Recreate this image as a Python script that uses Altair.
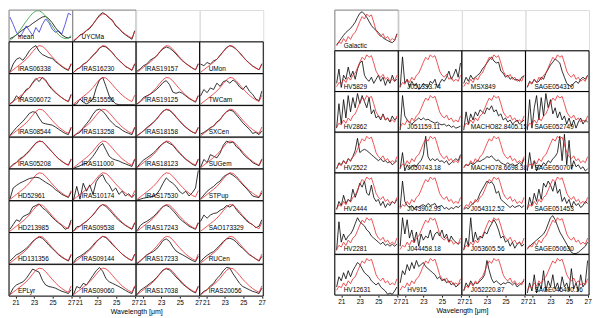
import altair as alt
import pandas as pd

# ---------------- wavelength grids ----------------
WL_L = [20.4, 20.75, 21.1, 21.45, 21.8, 22.15, 22.5, 22.85, 23.2, 23.55,
        23.9, 24.25, 24.6, 24.95, 25.3, 25.65, 26.0, 26.35, 26.7, 27.0]
WL_R = [20.5, 20.75, 21.0, 21.25, 21.5, 21.75, 22.0, 22.25, 22.5, 22.75,
        23.0, 23.25, 23.5, 23.75, 24.0, 24.25, 24.5, 24.75, 25.0, 25.25,
        25.5, 25.75, 26.0, 26.25, 26.5, 26.75, 27.0]
X_TICKS = [21, 23, 25, 27]

# ---------------- templates (red) ----------------
LEFT_RED = [0.04, 0.12, 0.2, 0.28, 0.36, 0.45, 0.56, 0.69, 0.81, 0.88,
            0.86, 0.77, 0.65, 0.53, 0.42, 0.32, 0.24, 0.17, 0.12, 0.32]
RIGHT_RED = [0.12, 0.22, 0.18, 0.3, 0.22, 0.35, 0.28, 0.4, 0.45, 0.58, 0.72, 0.84, 0.78, 0.9,
             0.84, 0.88, 0.7, 0.5, 0.4, 0.35, 0.42, 0.3, 0.35, 0.25, 0.3, 0.25, 0.4]

# mean panel extra curves
MEAN_GREEN = [0.05, 0.12, 0.22, 0.35, 0.5, 0.65, 0.78, 0.9, 0.97, 0.98,
              0.92, 0.8, 0.65, 0.5, 0.35, 0.22, 0.14, 0.1, 0.12, 0.2]
MEAN_BLUE = [0.78, 0.55, 0.3, 0.15, 0.3, 0.5, 0.35, 0.2, 0.45, 0.3,
             0.55, 0.72, 0.6, 0.4, 0.3, 0.35, 0.25, 0.55, 0.9, 0.85]

# ---------------- left grid: (name, row, col) ----------------
LEFT_LAYOUT = [
    ("mean", 0, 0), ("UYCMa", 0, 1),
    ("IRAS06338", 1, 0), ("IRAS16230", 1, 1), ("IRAS19157", 1, 2), ("UMon", 1, 3),
    ("IRAS06072", 2, 0), ("IRAS15556", 2, 1), ("IRAS19125", 2, 2), ("TWCam", 2, 3),
    ("IRAS08544", 3, 0), ("IRAS13258", 3, 1), ("IRAS18158", 3, 2), ("SXCen", 3, 3),
    ("IRAS05208", 4, 0), ("IRAS11000", 4, 1), ("IRAS18123", 4, 2), ("SUGem", 4, 3),
    ("HD52961", 5, 0), ("IRAS10174", 5, 1), ("IRAS17530", 5, 2), ("STPup", 5, 3),
    ("HD213985", 6, 0), ("IRAS09538", 6, 1), ("IRAS17243", 6, 2), ("SAO173329", 6, 3),
    ("HD131356", 7, 0), ("IRAS09144", 7, 1), ("IRAS17233", 7, 2), ("RUCen", 7, 3),
    ("EPLyr", 8, 0), ("IRAS09060", 8, 1), ("IRAS17038", 8, 2), ("IRAS20056", 8, 3),
]
LEFT_BLACK = {
    "mean": [0.1, 0.15, 0.22, 0.3, 0.38, 0.45, 0.5, 0.58, 0.65, 0.72, 0.78, 0.8, 0.72, 0.6, 0.45, 0.32, 0.22, 0.15, 0.12, 0.15],
    "UYCMa": [0.02, 0.1, 0.22, 0.25, 0.35, 0.42, 0.55, 0.7, 0.84, 0.92, 0.85, 0.75, 0.68, 0.5, 0.42, 0.3, 0.22, 0.15, 0.08, 0.35],
    "IRAS06338": [0.04, 0.3, 0.45, 0.5, 0.42, 0.55, 0.72, 0.82, 0.88, 0.7, 0.6, 0.55, 0.5, 0.48, 0.38, 0.3, 0.22, 0.15, 0.1, 0.3],
    "IRAS16230": [0.03, 0.14, 0.18, 0.3, 0.35, 0.46, 0.58, 0.66, 0.8, 0.86, 0.84, 0.75, 0.66, 0.52, 0.42, 0.33, 0.22, 0.17, 0.1, 0.3],
    "IRAS19157": [0.08, 0.15, 0.25, 0.3, 0.42, 0.48, 0.55, 0.68, 0.78, 0.84, 0.8, 0.72, 0.62, 0.5, 0.4, 0.32, 0.25, 0.18, 0.12, 0.3],
    "UMon": [0.3, 0.25, 0.35, 0.3, 0.4, 0.45, 0.58, 0.7, 0.82, 0.88, 0.84, 0.76, 0.66, 0.54, 0.42, 0.33, 0.24, 0.18, 0.12, 0.3],
    "IRAS06072": [0.05, 0.12, 0.3, 0.2, 0.35, 0.5, 0.55, 0.72, 0.85, 0.75, 0.88, 0.8, 0.62, 0.5, 0.4, 0.32, 0.24, 0.17, 0.12, 0.35],
    "IRAS15556": [0.02, 0.05, 0.2, 0.1, 0.05, 0.1, 0.2, 0.55, 0.8, 0.88, 0.6, 0.3, 0.15, 0.05, 0.02, 0.02, 0.02, 0.02, 0.02, 0.02],
    "IRAS19125": [0.05, 0.12, 0.25, 0.3, 0.35, 0.42, 0.5, 0.6, 0.72, 0.78, 0.65, 0.42, 0.38, 0.42, 0.38, 0.3, 0.22, 0.16, 0.1, 0.3],
    "TWCam": [0.3, 0.5, 0.4, 0.55, 0.5, 0.7, 0.6, 0.75, 0.78, 0.7, 0.8, 0.72, 0.58, 0.5, 0.62, 0.45, 0.35, 0.2, 0.15, 0.45],
    "IRAS08544": [0.05, 0.18, 0.3, 0.4, 0.5, 0.62, 0.75, 0.8, 0.78, 0.6, 0.45, 0.42, 0.4, 0.38, 0.32, 0.25, 0.18, 0.12, 0.08, 0.3],
    "IRAS13258": [0.03, 0.1, 0.15, 0.3, 0.42, 0.55, 0.72, 0.85, 0.88, 0.82, 0.7, 0.55, 0.45, 0.35, 0.3, 0.22, 0.16, 0.12, 0.08, 0.3],
    "IRAS18158": [0.05, 0.12, 0.2, 0.3, 0.38, 0.47, 0.57, 0.7, 0.82, 0.87, 0.84, 0.75, 0.63, 0.52, 0.4, 0.31, 0.23, 0.16, 0.12, 0.3],
    "SXCen": [0.1, 0.15, 0.22, 0.3, 0.35, 0.48, 0.55, 0.7, 0.8, 0.85, 0.82, 0.7, 0.58, 0.45, 0.35, 0.25, 0.12, 0.15, 0.08, 0.2],
    "IRAS05208": [0.04, 0.15, 0.2, 0.32, 0.38, 0.48, 0.58, 0.7, 0.82, 0.87, 0.86, 0.76, 0.64, 0.54, 0.42, 0.32, 0.24, 0.17, 0.12, 0.3],
    "IRAS11000": [0.02, 0.06, 0.1, 0.15, 0.18, 0.28, 0.4, 0.55, 0.72, 0.8, 0.6, 0.4, 0.32, 0.28, 0.25, 0.2, 0.16, 0.12, 0.08, 0.3],
    "IRAS18123": [0.05, 0.18, 0.28, 0.35, 0.42, 0.5, 0.6, 0.72, 0.8, 0.86, 0.8, 0.75, 0.62, 0.5, 0.4, 0.3, 0.23, 0.15, 0.1, 0.3],
    "SUGem": [0.05, 0.3, 0.2, 0.45, 0.4, 0.35, 0.5, 0.75, 0.88, 0.82, 0.85, 0.7, 0.62, 0.48, 0.38, 0.3, 0.2, 0.15, 0.1, 0.3],
    "HD52961": [0.05, 0.4, 0.48, 0.55, 0.6, 0.65, 0.7, 0.72, 0.74, 0.72, 0.65, 0.58, 0.52, 0.45, 0.35, 0.28, 0.2, 0.15, 0.1, 0.28],
    "IRAS10174": [0.02, 0.45, 0.05, 0.55, 0.3, 0.5, 0.2, 0.6, 0.75, 0.82, 0.6, 0.5, 0.3, 0.4, 0.2, 0.3, 0.15, 0.22, 0.1, 0.2],
    "IRAS17530": [0.02, 0.05, 0.08, 0.1, 0.12, 0.15, 0.2, 0.35, 0.55, 0.72, 0.62, 0.55, 0.45, 0.3, 0.22, 0.3, 0.15, 0.25, 0.4, 0.95],
    "STPup": [0.05, 0.18, 0.3, 0.38, 0.45, 0.55, 0.62, 0.75, 0.82, 0.86, 0.8, 0.72, 0.62, 0.5, 0.4, 0.28, 0.15, 0.12, 0.1, 0.25],
    "HD213985": [0.1, 0.25, 0.4, 0.35, 0.5, 0.55, 0.6, 0.8, 0.85, 0.9, 0.78, 0.7, 0.6, 0.48, 0.38, 0.3, 0.22, 0.1, 0.15, 0.4],
    "IRAS09538": [0.04, 0.18, 0.2, 0.28, 0.35, 0.45, 0.55, 0.68, 0.82, 0.88, 0.82, 0.72, 0.6, 0.48, 0.38, 0.3, 0.22, 0.16, 0.1, 0.3],
    "IRAS17243": [0.05, 0.22, 0.3, 0.35, 0.42, 0.5, 0.6, 0.72, 0.82, 0.86, 0.8, 0.7, 0.58, 0.45, 0.36, 0.28, 0.2, 0.15, 0.1, 0.3],
    "SAO173329": [0.35, 0.55, 0.45, 0.55, 0.6, 0.62, 0.7, 0.75, 0.85, 0.8, 0.88, 0.72, 0.6, 0.5, 0.38, 0.3, 0.25, 0.15, 0.2, 0.4],
    "HD131356": [0.1, 0.2, 0.3, 0.35, 0.42, 0.5, 0.6, 0.72, 0.8, 0.86, 0.82, 0.72, 0.6, 0.5, 0.4, 0.3, 0.22, 0.16, 0.1, 0.3],
    "IRAS09144": [0.05, 0.2, 0.25, 0.32, 0.4, 0.48, 0.6, 0.72, 0.8, 0.88, 0.84, 0.74, 0.62, 0.52, 0.42, 0.32, 0.24, 0.17, 0.12, 0.32],
    "IRAS17233": [0.02, 0.1, 0.2, 0.3, 0.35, 0.4, 0.48, 0.6, 0.75, 0.8, 0.72, 0.55, 0.42, 0.35, 0.3, 0.24, 0.18, 0.12, 0.08, 0.25],
    "RUCen": [0.08, 0.2, 0.28, 0.35, 0.4, 0.5, 0.6, 0.72, 0.8, 0.82, 0.78, 0.7, 0.58, 0.5, 0.4, 0.3, 0.24, 0.17, 0.1, 0.25],
    "EPLyr": [0.05, 0.25, 0.35, 0.4, 0.45, 0.55, 0.7, 0.85, 0.8, 0.75, 0.5, 0.35, 0.3, 0.28, 0.25, 0.2, 0.15, 0.12, 0.08, 0.2],
    "IRAS09060": [0.05, 0.3, 0.25, 0.4, 0.35, 0.5, 0.65, 0.8, 0.9, 0.78, 0.55, 0.45, 0.4, 0.35, 0.3, 0.24, 0.18, 0.12, 0.08, 0.3],
    "IRAS17038": [0.05, 0.18, 0.25, 0.32, 0.4, 0.48, 0.58, 0.7, 0.82, 0.86, 0.82, 0.72, 0.6, 0.5, 0.38, 0.3, 0.22, 0.15, 0.1, 0.3],
    "IRAS20056": [0.05, 0.15, 0.2, 0.32, 0.4, 0.55, 0.65, 0.8, 0.9, 0.88, 0.7, 0.55, 0.4, 0.3, 0.25, 0.2, 0.15, 0.12, 0.08, 0.25],
}

# ---------------- right grid ----------------
RIGHT_LAYOUT = [
    ("Galactic", 0, 0),
    ("HV5829", 1, 0), ("J051333.74", 1, 1), ("MSX849", 1, 2), ("SAGE054310", 1, 3),
    ("HV2862", 2, 0), ("J051159.11", 2, 1), ("MACHO82.8405.15", 2, 2), ("SAGE052749", 2, 3),
    ("HV2522", 3, 0), ("J050743.18", 3, 1), ("MACHO78.6698.38", 3, 2), ("SAGE050707", 3, 3),
    ("HV2444", 4, 0), ("J043902.93", 4, 1), ("J054312.52", 4, 2), ("SAGE051453", 4, 3),
    ("HV2281", 5, 0), ("J044458.18", 5, 1), ("J053605.56", 5, 2), ("SAGE050630", 5, 3),
    ("HV12631", 6, 0), ("HV915", 6, 1), ("J052220.87", 6, 2), ("SAGE045400.16", 6, 3),
]
RIGHT_BLACK = {
    "Galactic": [0.15, 0.22, 0.3, 0.38, 0.45, 0.5, 0.55, 0.62, 0.7, 0.82, 0.92, 0.96, 0.9, 0.82, 0.72, 0.62, 0.55, 0.5, 0.45, 0.38, 0.32, 0.28, 0.25, 0.22, 0.2, 0.25, 0.42],
    "HV5829": [0.2, 0.55, 0.1, 0.4, 0.3, 0.6, 0.35, 0.5, 0.3, 0.55, 0.7, 0.75, 0.4, 0.3, 0.25, 0.35, 0.2, 0.3, 0.4, 0.25, 0.35, 0.15, 0.3, 0.2, 0.4, 0.25, 0.3],
    "J051333.74": [0.1, 0.85, 0.2, 0.3, 0.1, 0.25, 0.15, 0.2, 0.05, 0.1, 0.2, 0.15, 0.1, 0.25, 0.2, 0.3, 0.1, 0.2, 0.3, 0.25, 0.35, 0.5, 0.3, 0.4, 0.55, 0.35, 0.7],
    "MSX849": [0.2, 0.35, 0.25, 0.4, 0.3, 0.35, 0.4, 0.45, 0.55, 0.62, 0.7, 0.78, 0.85, 0.75, 0.7, 0.72, 0.5, 0.45, 0.35, 0.4, 0.3, 0.35, 0.28, 0.3, 0.25, 0.35, 0.38],
    "SAGE054310": [0.1, 0.25, 0.2, 0.3, 0.22, 0.25, 0.35, 0.3, 0.45, 0.55, 0.65, 0.72, 0.8, 0.75, 0.7, 0.5, 0.35, 0.2, 0.15, 0.12, 0.2, 0.25, 0.2, 0.3, 0.35, 0.3, 0.4],
    "HV2862": [0.1, 0.7, 0.2, 0.8, 0.35, 0.9, 0.5, 0.85, 0.6, 0.95, 0.7, 0.9, 0.75, 0.6, 0.85, 0.45, 0.55, 0.35, 0.4, 0.3, 0.45, 0.3, 0.35, 0.25, 0.4, 0.3, 0.35],
    "J051159.11": [0.05, 0.9, 0.4, 0.3, 0.25, 0.2, 0.25, 0.3, 0.35, 0.3, 0.35, 0.3, 0.32, 0.28, 0.25, 0.22, 0.25, 0.2, 0.18, 0.2, 0.15, 0.18, 0.12, 0.15, 0.1, 0.12, 0.15],
    "MACHO82.8405.15": [0.05, 0.5, 0.2, 0.45, 0.3, 0.5, 0.4, 0.55, 0.5, 0.45, 0.6, 0.55, 0.65, 0.5, 0.55, 0.4, 0.45, 0.3, 0.35, 0.25, 0.3, 0.2, 0.25, 0.3, 0.2, 0.25, 0.3],
    "SAGE052749": [0.05, 0.8, 0.1, 0.6, 0.9, 0.3, 0.85, 0.4, 0.95, 0.6, 0.8, 0.45, 0.6, 0.35, 0.5, 0.3, 0.4, 0.2, 0.35, 0.15, 0.3, 0.1, 0.25, 0.35, 0.2, 0.3, 0.25],
    "HV2522": [0.1, 0.25, 0.2, 0.3, 0.22, 0.35, 0.3, 0.4, 0.55, 0.85, 0.5, 0.55, 0.58, 0.55, 0.5, 0.45, 0.4, 0.35, 0.3, 0.35, 0.28, 0.3, 0.25, 0.28, 0.2, 0.25, 0.3],
    "J050743.18": [0.1, 0.5, 0.05, 0.2, 0.1, 0.15, 0.2, 0.15, 0.25, 0.3, 0.45, 0.9, 0.4, 0.3, 0.35, 0.3, 0.35, 0.28, 0.3, 0.25, 0.3, 0.2, 0.25, 0.3, 0.35, 0.3, 0.45],
    "MACHO78.6698.38": [0.15, 0.2, 0.18, 0.25, 0.2, 0.25, 0.3, 0.28, 0.32, 0.35, 0.4, 0.38, 0.42, 0.35, 0.3, 0.32, 0.25, 0.22, 0.2, 0.25, 0.2, 0.22, 0.18, 0.2, 0.25, 0.2, 0.35],
    "SAGE050707": [0.05, 0.5, 0.1, 0.3, 0.05, 0.2, 0.15, 0.25, 0.2, 0.3, 0.25, 0.35, 0.4, 0.5, 0.9, 0.3, 0.95, 0.2, 0.8, 0.1, 0.3, 0.15, 0.2, 0.1, 0.15, 0.05, 0.1],
    "HV2444": [0.1, 0.3, 0.2, 0.45, 0.25, 0.35, 0.3, 0.6, 0.4, 0.55, 0.75, 0.65, 0.8, 0.5, 0.45, 0.7, 0.4, 0.3, 0.35, 0.2, 0.3, 0.15, 0.25, 0.2, 0.3, 0.25, 0.35],
    "J043902.93": [0.15, 0.8, 0.3, 0.2, 0.15, 0.2, 0.12, 0.18, 0.15, 0.2, 0.22, 0.18, 0.25, 0.2, 0.22, 0.25, 0.15, 0.18, 0.2, 0.12, 0.15, 0.1, 0.15, 0.12, 0.18, 0.15, 0.2],
    "J054312.52": [0.1, 0.15, 0.12, 0.2, 0.25, 0.3, 0.35, 0.5, 0.6, 0.7, 0.8, 0.75, 0.78, 0.7, 0.5, 0.55, 0.35, 0.3, 0.25, 0.2, 0.15, 0.2, 0.15, 0.18, 0.2, 0.15, 0.2],
    "SAGE051453": [0.1, 0.4, 0.2, 0.5, 0.3, 0.6, 0.35, 0.75, 0.65, 0.8, 0.7, 0.55, 0.78, 0.5, 0.6, 0.3, 0.4, 0.25, 0.35, 0.15, 0.3, 0.2, 0.25, 0.15, 0.2, 0.3, 0.25],
    "HV2281": [0.1, 0.8, 0.3, 0.5, 0.35, 0.45, 0.5, 0.6, 0.75, 0.9, 0.8, 0.75, 0.7, 0.6, 0.55, 0.45, 0.4, 0.35, 0.3, 0.25, 0.3, 0.22, 0.25, 0.2, 0.25, 0.2, 0.25],
    "J044458.18": [0.2, 0.9, 0.5, 0.85, 0.4, 0.6, 0.3, 0.55, 0.2, 0.5, 0.35, 0.45, 0.4, 0.6, 0.35, 0.5, 0.55, 0.45, 0.6, 0.4, 0.5, 0.3, 0.45, 0.35, 0.3, 0.25, 0.3],
    "J053605.56": [0.1, 0.4, 0.2, 0.9, 0.3, 0.55, 0.35, 0.45, 0.4, 0.55, 0.5, 0.65, 0.75, 0.85, 0.75, 0.6, 0.4, 0.45, 0.3, 0.35, 0.2, 0.3, 0.15, 0.25, 0.3, 0.2, 0.25],
    "SAGE050630": [0.15, 0.2, 0.25, 0.3, 0.35, 0.4, 0.45, 0.5, 0.6, 0.75, 0.9, 0.95, 0.85, 0.7, 0.55, 0.45, 0.35, 0.25, 0.15, 0.05, 0.02, 0.02, 0.05, 0.1, 0.15, 0.2, 0.3],
    "HV12631": [0.2, 0.45, 0.35, 0.55, 0.4, 0.6, 0.45, 0.6, 0.7, 0.8, 0.75, 0.65, 0.55, 0.5, 0.45, 0.35, 0.3, 0.25, 0.3, 0.2, 0.15, 0.1, 0.02, 0.05, 0.02, 0.1, 0.2],
    "HV915": [0.3, 0.6, 0.5, 0.75, 0.6, 0.8, 0.65, 0.85, 0.7, 0.75, 0.8, 0.7, 0.65, 0.6, 0.55, 0.5, 0.4, 0.45, 0.35, 0.4, 0.3, 0.35, 0.25, 0.3, 0.2, 0.25, 0.3],
    "J052220.87": [0.1, 0.3, 0.2, 0.35, 0.25, 0.3, 0.28, 0.35, 0.4, 0.5, 0.85, 0.6, 0.4, 0.3, 0.35, 0.3, 0.25, 0.3, 0.28, 0.32, 0.3, 0.25, 0.3, 0.2, 0.25, 0.3, 0.35],
    "SAGE045400.16": [0.05, 0.3, 0.1, 0.5, 0.05, 0.3, 0.15, 0.6, 0.1, 0.35, 0.2, 0.5, 0.15, 0.3, 0.1, 0.45, 0.2, 0.3, 0.1, 0.65, 0.15, 0.3, 0.1, 0.5, 0.2, 0.3, 0.85],
}

COLORS_DOMAIN = ["black", "blue", "green", "red"]
COLORS_RANGE = ["#000000", "#3535d8", "#2f9e3c", "#e62a2d"]
RED = "#e62a2d"


def build_df(layout, black, red, wl):
    recs = []
    for name, r, c in layout:
        series = {"black": black[name]}
        if name == "mean":
            series["blue"] = MEAN_BLUE
            series["green"] = MEAN_GREEN
        else:
            series["red"] = red
        first = True
        for s, vals in series.items():
            for x, v in zip(wl, vals):
                recs.append(dict(panel=name, r=r, c=c, series=s, wl=x, val=v,
                                 first=first, top=(r == 0)))
                first = False
    return pd.DataFrame(recs)


def grid(layout, black, red, wl, w, h):
    df = build_df(layout, black, red, wl)
    ax = alt.Axis(values=X_TICKS, title=None, labelFontSize=6.5, tickSize=2,
                  domain=False, grid=False, labelFlush=False, labelPadding=1,
                  format="d", labelColor="black", tickColor="black")
    xenc = alt.X("wl:Q", scale=alt.Scale(domain=[20.3, 27.15], nice=False, zero=False), axis=ax)
    yenc = alt.Y("val:Q", scale=alt.Scale(domain=[0, 1.0], nice=False), axis=None)
    lines = alt.Chart().transform_filter("datum.series != 'red'").mark_line(
        strokeWidth=0.8, clip=True).encode(
        x=xenc, y=yenc,
        color=alt.Color("series:N", scale=alt.Scale(domain=COLORS_DOMAIN, range=COLORS_RANGE),
                        legend=None))
    redl = alt.Chart().transform_filter("datum.series == 'red'").mark_line(
        strokeWidth=0.8, clip=True, color=RED).encode(x=xenc, y=yenc)
    text = alt.Chart().transform_filter("datum.first").mark_text(
        align="left", baseline="alphabetic", fontSize=6.5, color="black").encode(
        text="panel:N", x=alt.value(9), y=alt.value(h - 3))
    frame = alt.Chart().transform_filter("datum.first").mark_rect(
        fillOpacity=0, strokeWidth=1).encode(
        x=alt.value(0), x2=alt.value(w), y=alt.value(0), y2=alt.value(h),
        stroke=alt.condition("datum.top", alt.value("#8c8c8c"), alt.value("#000000")))
    return alt.layer(lines, redl, text, frame, data=df).properties(width=w, height=h).facet(
        row=alt.Row("r:O", header=None), column=alt.Column("c:O", header=None),
        spacing=0, bounds="flush"
    ).properties(title=alt.TitleParams("Wavelength [μm]", orient="bottom", fontSize=7,
                                        fontWeight="normal", anchor="middle", offset=3,
                                        color="black"))


left = grid(LEFT_LAYOUT, LEFT_BLACK, LEFT_RED, WL_L, 64, 32)
right = grid(RIGHT_LAYOUT, RIGHT_BLACK, RIGHT_RED, WL_R, 64, 41)

chart = alt.hconcat(left, right, spacing=68).properties(
    padding={"left": 0, "top": 0, "right": 0, "bottom": 0}
).configure_view(stroke="transparent").configure(font="Liberation Sans")

chart.save("out.html", embed_options={"renderer": "svg", "actions": False})
